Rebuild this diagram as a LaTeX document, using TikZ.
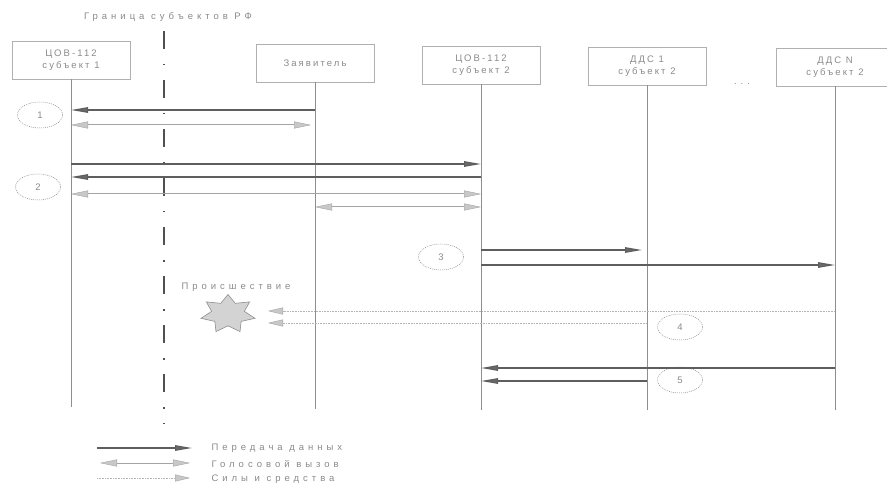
\documentclass[tikz,border=0pt]{standalone}
\usepackage{fontspec}
\setmainfont{Liberation Sans}
\newfontfamily\wide[LetterSpace=42]{Liberation Sans}
\newfontfamily\boxfont[LetterSpace=22]{Liberation Sans}
\usetikzlibrary{arrows.meta,shapes.geometric}
\definecolor{txt}{HTML}{8A8A8A}
\definecolor{boxc}{HTML}{B0B0B0}
\definecolor{lifec}{HTML}{8E8E8E}
\definecolor{datac}{HTML}{5E5E5E}
\definecolor{dataf}{HTML}{6A6A6A}
\definecolor{voicec}{HTML}{A4A4A4}
\definecolor{voicef}{HTML}{C8C8C8}
\definecolor{forcec}{HTML}{B4B4B4}
\definecolor{borderc}{HTML}{505050}
\begin{document}
\begin{tikzpicture}[x=1pt,y=-1pt,
  every node/.style={text=txt, font=\wide\fontsize{9.5}{12}\selectfont},
  box/.style={draw=boxc, line width=0.6pt, minimum width=118pt, minimum height=38pt, align=center, inner sep=2pt,
              font=\boxfont\fontsize{9.5}{12.5}\selectfont},
  life/.style={draw=lifec, line width=0.6pt},
  num/.style={ellipse, draw=lifec, line width=0.5pt, dash pattern=on 1pt off 1pt, minimum width=45pt, minimum height=26pt, inner sep=0pt,
              font=\boxfont\fontsize{9.5}{12}\selectfont},
  data/.style={draw=datac, line width=1.2pt, -{Triangle[length=17pt,width=5.5pt,fill=dataf]}},
  voice/.style={draw=voicec, line width=1pt, {Triangle[length=17pt,width=7pt,fill=voicef,color=voicec,line width=0.4pt]}-{Triangle[length=17pt,width=7pt,fill=voicef,color=voicec,line width=0.4pt]}},
  force/.style={draw=forcec, line width=1pt, dash pattern=on 1pt off 0.6pt, -{Triangle[length=15pt,width=7pt,fill=voicef,color=voicec,line width=0.4pt]}},
  border/.style={draw=borderc, line width=2.2pt, dash pattern=on 18pt off 15pt on 1.5pt off 14.5pt}
]
\useasboundingbox (0,0) rectangle (887,484);

% title and border
\node (title) at (168,17) {Граница субъектов РФ};
\coordinate (bt) at (164,31);
\coordinate (bb) at (164,424);
\draw[border] (bt) -- (bb);

% boxes
\node[box] (b1) at (71,60) {ЦОВ-112\\субъект 1};
\node[box] (b2) at (315,63) {Заявитель};
\node[box] (b3) at (481,65) {ЦОВ-112\\субъект 2};
\node[box] (b4) at (647,66) {ДДС 1\\субъект 2};
\node[box] (b5) at (835,67) {ДДС N\\субъект 2};
\node (dots) at (742,84) {...};

% lifelines
\coordinate (L1) at (b1.south);
\coordinate (L2) at (b2.south);
\coordinate (L3) at (b3.south);
\coordinate (L4) at (b4.south);
\coordinate (L5) at (b5.south);
\draw[life] (L1) -- (L1 |- 0,407);
\draw[life] (L2) -- (L2 |- 0,409);
\draw[life] (L3) -- (L3 |- 0,410);
\draw[life] (L4) -- (L4 |- 0,410);
\draw[life] (L5) -- (L5 |- 0,410);

% step numbers
\node[num] (n1) at (40,115) {1};
\node[num] (n2) at (38,187) {2};
\node[num] (n3) at (441,257) {3};
\node[num] (n4) at (680,327) {4};
\node[num] (n5) at (680,380) {5};

% step 1
\draw[data] (L2 |- 0,110) -- (L1 |- 0,110);
\draw[voice] (L1 |- 0,125) -- ([xshift=-4pt]L2 |- 0,125);

% step 2
\draw[data] (L1 |- 0,164) -- (L3 |- 0,164);
\draw[data] (L3 |- 0,177) -- (L1 |- 0,177);
\draw[voice] (L1 |- 0,194) -- (L3 |- 0,194);
\draw[voice] (L2 |- 0,207) -- (L3 |- 0,207);

% step 3
\draw[data] (L3 |- 0,250) -- ([xshift=-5pt]L4 |- 0,250);
\draw[data] (L3 |- 0,265) -- (L5 |- 0,265);

% incident
\node (inc) at (236,287) {Происшествие};
\begin{scope}[shift={(228,314)}, xscale=1.42]
  \node[star, star points=7, star point ratio=1.65, minimum size=39pt, inner sep=0pt,
        draw=lifec, fill=voicef!80, line width=0.6pt, transform shape] (acc) {};
\end{scope}
\coordinate (hit) at (268,317);

% step 4
\draw[force] (L5 |- 0,311) -- (hit |- 0,311);
\draw[force] (L4 |- 0,323) -- (hit |- 0,323);

% step 5
\draw[data] (L5 |- 0,368) -- (L3 |- 0,368);
\draw[data] (L4 |- 0,381) -- (L3 |- 0,381);

% legend
\coordinate (a1) at (97,448);  \coordinate (a2) at (192,448);
\coordinate (v1) at (100,463); \coordinate (v2) at (190,463);
\coordinate (f1) at (97,478);  \coordinate (f2) at (190,478);
\draw[data] (a1) -- (a2);
\draw[voice] (v1) -- (v2);
\draw[force] (f1) -- (f2);
\node[anchor=west] (t1) at (208,448) {Передача данных};
\node[anchor=west] (t2) at (208,464) {Голосовой вызов};
\node[anchor=west] (t3) at (208,479) {Силы и средства};
\end{tikzpicture}
\end{document}
